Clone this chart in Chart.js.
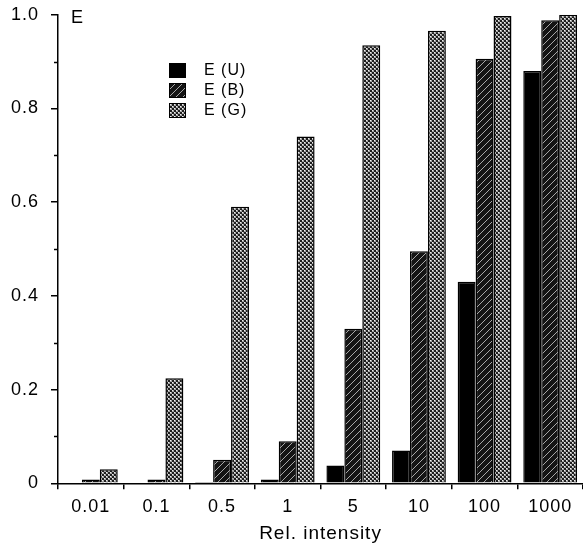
<!DOCTYPE html>
<html>
<head>
<meta charset="utf-8">
<script src="https://cdn.jsdelivr.net/npm/chart.js@4"></script>
<style>
  html, body { margin: 0; padding: 0; background: #fff; }
  #wrap { width: 583px; height: 545px; }
</style>
</head>
<body>
<div id="wrap"><canvas id="myChart"></canvas></div>
<script>
// Data
const categories = ['0.01', '0.1', '0.5', '1', '5', '10', '100', '1000'];
const seriesNames = ['E (U)', 'E (B)', 'E (G)'];
const valuesU = [0, 0, 0.003, 0.008, 0.038, 0.07, 0.43, 0.88];
const valuesB = [0.008, 0.008, 0.05, 0.09, 0.33, 0.495, 0.906, 0.988];
const valuesG = [0.03, 0.224, 0.59, 0.74, 0.935, 0.966, 0.997, 1.0];
const yTicks = [0, 0.2, 0.4, 0.6, 0.8, 1.0];

const FONT = '"Liberation Sans", Arial, sans-serif';

// Fill patterns for the bars
function makeHatch() {
    const c = document.createElement('canvas');
    c.width = 7; c.height = 7;
    const g = c.getContext('2d');
    g.fillStyle = '#141414';
    g.fillRect(0, 0, 7, 7);
    g.strokeStyle = 'rgba(230,230,230,0.7)';
    g.lineWidth = 1;
    g.beginPath();
    g.moveTo(0, 7); g.lineTo(7, 0);
    g.moveTo(-1, 1); g.lineTo(1, -1);
    g.moveTo(6, 8); g.lineTo(8, 6);
    g.stroke();
    return g.createPattern(c, 'repeat');
}

function makeStipple() {
    const c = document.createElement('canvas');
    c.width = 4; c.height = 4;
    const g = c.getContext('2d');
    g.fillStyle = '#a4a4a4';
    g.fillRect(0, 0, 4, 4);
    g.fillStyle = '#1e1e1e';
    g.fillRect(0, 0, 2, 2);
    g.fillRect(2, 2, 2, 2);
    g.fillStyle = '#f0f0f0';
    g.fillRect(2, 0, 1, 1);
    g.fillRect(0, 2, 1, 1);
    return g.createPattern(c, 'repeat');
}

const fills = ['#000', makeHatch(), makeStipple()];

// Plugin - text spacing, minor y ticks, axis letter and the inset legend
const extras = {
    id: 'extras',
    beforeInit(chart) {
        chart.ctx.letterSpacing = '1px';
    },
    beforeDraw(chart) {
        chart.ctx.letterSpacing = '1px';
    },
    afterDraw(chart) {
        const ctx = chart.ctx;
        const y = chart.scales.y;
        const area = chart.chartArea;
        ctx.save();
        ctx.strokeStyle = '#000';
        ctx.lineWidth = 1.5;
        // minor ticks at odd tenths
        y.ticks.forEach((t) => {
            if (Math.round(t.value * 10) % 2 === 1) {
                const py = Math.round(y.getPixelForValue(t.value)) + 0.5;
                ctx.beginPath();
                ctx.moveTo(area.left - 4, py);
                ctx.lineTo(area.left, py);
                ctx.stroke();
            }
        });

        // axis letter next to the top of the y axis
        ctx.fillStyle = '#000';
        ctx.font = '18px ' + FONT;
        ctx.textBaseline = 'middle';
        ctx.textAlign = 'left';
        ctx.fillText('E', area.left + 13, y.getPixelForValue(1.0) + 3);

        // legend
        ctx.font = '16px ' + FONT;
        chart.data.datasets.forEach((ds, i) => {
            const top = 63 + i * 20;
            ctx.fillStyle = ds.backgroundColor;
            ctx.fillRect(169, top, 17, 15);
            ctx.lineWidth = 1;
            ctx.strokeRect(169.5, top + 0.5, 16, 14);
            ctx.fillStyle = '#000';
            ctx.fillText(ds.label, 204, top + 8);
        });
        ctx.restore();
    }
};

const ctx = document.getElementById('myChart');

new Chart(ctx, {
    type: 'bar',
    data: {
        labels: categories,
        datasets: [valuesU, valuesB, valuesG].map((vals, i) => ({
            label: seriesNames[i],
            data: vals,
            backgroundColor: fills[i],
            borderColor: '#000',
            borderWidth: 1.5,
            borderSkipped: 'bottom'
        }))
    },
    options: {
        responsive: true,
        maintainAspectRatio: false,
        animation: false,
        layout: { padding: { top: 0, right: 0, left: 2, bottom: 3 } },
        categoryPercentage: 0.82,
        barPercentage: 1.0,
        plugins: {
            legend: { display: false },
            tooltip: { enabled: false }
        },
        scales: {
            x: {
                grid: {
                    display: true,
                    drawOnChartArea: false,
                    offset: true,
                    tickLength: 6,
                    color: '#000',
                    lineWidth: 1.5
                },
                border: { display: true, color: '#000', width: 1.5 },
                ticks: {
                    color: '#000',
                    font: { family: FONT, size: 18 },
                    padding: 7,
                    maxRotation: 0
                },
                title: {
                    display: true,
                    text: 'Rel. intensity',
                    color: '#000',
                    font: { family: FONT, size: 19, lineHeight: 0.9 },
                    padding: { top: 0, bottom: 0 }
                }
            },
            y: {
                min: 0,
                max: 1,
                grid: {
                    display: true,
                    drawOnChartArea: false,
                    tickLength: 7,
                    lineWidth: 1.5,
                    color: (c) => (yTicks.some(v => Math.abs(v - c.tick.value) < 1e-6) ? '#000' : 'rgba(0,0,0,0)')
                },
                border: { display: true, color: '#000', width: 1.5 },
                ticks: {
                    stepSize: 0.1,
                    color: '#000',
                    font: { family: FONT, size: 18, lineHeight: 0.3 },
                    padding: 12,
                    callback: function (value) {
                        if (!yTicks.some(v => Math.abs(v - value) < 1e-6)) return '';
                        return value === 0 ? '0' : value.toFixed(1);
                    }
                }
            }
        }
    },
    plugins: [extras]
});
</script>
</body>
</html>
